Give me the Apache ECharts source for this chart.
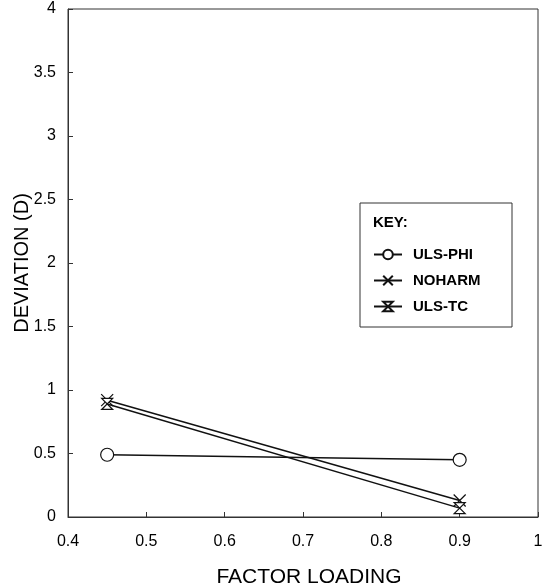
<!DOCTYPE html>
<html>
<head>
<meta charset="utf-8">
<script src="https://cdn.jsdelivr.net/npm/echarts@6/dist/echarts.min.js"></script>
<style>
  html, body { margin: 0; padding: 0; background: #fff; }
  #main { width: 542px; height: 588px; }
</style>
</head>
<body>
<div id="main"></div>
<script>
var myChart = echarts.init(document.getElementById('main'));

// factor loading levels on the x axis
var loadings = [0.45, 0.9];
// deviation D per method
var ulsPhi = [0.49, 0.45];
var noharm = [0.92, 0.13];
var ulsTc = [0.89, 0.07];

var xTicks = [0.4, 0.5, 0.6, 0.7, 0.8, 0.9, 1];
var yTicks = [0, 0.5, 1, 1.5, 2, 2.5, 3, 3.5, 4];

function pairs(ys) {
    return loadings.map(function (x, i) { return [x, ys[i]]; });
}

var FONT = 'Liberation Sans, Arial, sans-serif';
var crossPath = 'path://M0,0 L10,12 M10,0 L0,12';
var hourglassPath = 'path://M0,0 L10,0 L0,10 L10,10 Z';

function line(name, ys, symbol, size) {
    return {
        name: name,
        type: 'line',
        data: pairs(ys),
        symbol: symbol,
        symbolSize: size,
        showAllSymbol: true,
        lineStyle: { color: '#111', width: 1.5 },
        itemStyle: { color: '#fff', borderColor: '#111', borderWidth: 1.2 },
        emphasis: { disabled: true }
    };
}

option = {
    backgroundColor: '#fff',
    animation: false,
    textStyle: { fontFamily: FONT, color: '#000' },
    grid: {
        left: 68, right: 4, top: 9, bottom: 71,
        outerBoundsMode: 'none',
        containLabel: false,
        show: true,
        borderColor: '#333',
        borderWidth: 1
    },
    xAxis: {
        type: 'value',
        min: xTicks[0],
        max: xTicks[xTicks.length - 1],
        interval: 0.1,
        name: 'FACTOR LOADING',
        nameLocation: 'middle',
        nameMoveOverlap: false,
        nameGap: 50,
        nameTextStyle: { fontSize: 21, color: '#000', padding: [0, 0, 0, 12] },
        axisLine: { lineStyle: { color: '#333' } },
        axisTick: { inside: true, length: 5, lineStyle: { color: '#333' } },
        axisLabel: {
            margin: 17, fontSize: 16, color: '#000',
            formatter: function (v) { return String(+v.toFixed(1)); }
        },
        splitLine: { show: false }
    },
    yAxis: {
        type: 'value',
        min: yTicks[0],
        max: yTicks[yTicks.length - 1],
        interval: 0.5,
        name: 'DEVIATION (D)',
        nameLocation: 'middle',
        nameMoveOverlap: false,
        nameGap: 36,
        nameTextStyle: { fontSize: 20, color: '#000' },
        axisLine: { show: true, lineStyle: { color: '#333' } },
        axisTick: { show: true, inside: true, length: 5, lineStyle: { color: '#333' } },
        axisLabel: { margin: 12, fontSize: 16, color: '#000' },
        splitLine: { show: false }
    },
    legend: {
        orient: 'vertical',
        left: 368,
        top: 242,
        itemWidth: 28,
        itemHeight: 12,
        itemGap: 11,
        textStyle: { fontSize: 15, fontWeight: 'bold', color: '#000', padding: [0, 0, 0, 6] },
        data: ['ULS-PHI', 'NOHARM', 'ULS-TC']
    },
    graphic: [
        {
            type: 'rect',
            shape: { x: 360, y: 203, width: 152, height: 124 },
            style: { fill: 'none', stroke: '#333', lineWidth: 1 }
        },
        {
            type: 'text',
            left: 373,
            top: 215,
            style: { text: 'KEY:', fontSize: 15, fontWeight: 'bold', fontFamily: FONT, fill: '#000' }
        }
    ],
    series: [
        line('ULS-PHI', ulsPhi, 'circle', 13),
        line('NOHARM', noharm, crossPath, 12),
        line('ULS-TC', ulsTc, hourglassPath, 11)
    ]
};
myChart.setOption(option);
</script>
</body>
</html>
